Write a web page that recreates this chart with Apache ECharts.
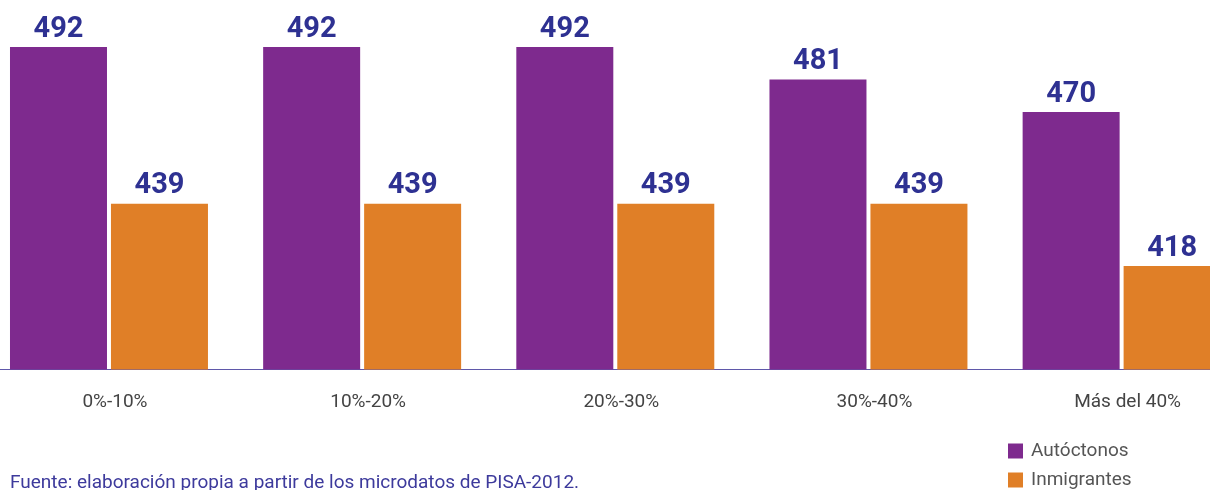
<!DOCTYPE html>
<html>
<head>
<meta charset="utf-8">
<script src="https://cdn.jsdelivr.net/npm/echarts@6/dist/echarts.min.js"></script>
<style>
  html, body { margin: 0; padding: 0; background: #ffffff; }
  #chart { width: 1210px; height: 490px; }
</style>
</head>
<body>
<div id="chart"></div>
<script>
// Puntuación media por porcentaje de alumnado inmigrante en el centro
const categories = ['0%-10%', '10%-20%', '20%-30%', '30%-40%', 'Más del 40%'];
const autoctonos = [492, 492, 492, 481, 470];
const inmigrantes = [439, 439, 439, 439, 418];
const seriesNames = ['Autóctonos', 'Inmigrantes'];
const sourceNote = 'Fuente: elaboración propia a partir de los microdatos de PISA-2012.';

const PURPLE = '#7e2a8e';
const ORANGE = '#e07f27';
const LABEL_BLUE = '#2e3192';

const chart = echarts.init(document.getElementById('chart'), null, { renderer: 'canvas' });

const valueLabel = {
  show: true,
  position: 'top',
  distance: 3,
  color: LABEL_BLUE,
  fontFamily: 'Roboto',
  fontWeight: 'bold',
  fontSize: 29
};

// One legend block per row so the two entries stack in the bottom-right corner
const legendRow = (name, top) => ({
  orient: 'vertical',
  left: 1008,
  top: top,
  padding: 0,
  itemWidth: 15,
  itemHeight: 15,
  icon: 'rect',
  textStyle: {
    color: '#555555',
    fontFamily: 'Roboto',
    fontSize: 19,
    lineHeight: 18,
    padding: [0, 0, 0, 3]
  },
  data: [name]
});

chart.setOption({
  animation: false,
  backgroundColor: '#ffffff',
  textStyle: { fontFamily: 'Roboto' },
  grid: {
    left: -17.6,
    width: 1265.8,
    top: 23.2,
    bottom: 120.5,
    containLabel: false,
    outerBoundsMode: 'none'
  },
  xAxis: {
    type: 'category',
    data: categories,
    axisLine: { show: true, lineStyle: { color: '#5f58aa', width: 1 } },
    axisTick: { show: false },
    axisLabel: {
      color: '#444444',
      fontFamily: 'Roboto',
      fontSize: 19,
      margin: 23,
      padding: [0, 0, 0, 12]
    }
  },
  yAxis: {
    type: 'value',
    min: 383,
    max: 500,
    show: false,
    splitLine: { show: false }
  },
  legend: [
    legendRow(seriesNames[0], 441.5),
    legendRow(seriesNames[1], 470.5)
  ],
  graphic: [{
    type: 'text',
    x: 10,
    y: 474,
    style: {
      text: sourceNote,
      fill: '#3d3a9c',
      font: '19px Roboto',
      verticalAlign: 'top'
    }
  }],
  series: [
    {
      name: seriesNames[0],
      type: 'bar',
      data: autoctonos,
      barWidth: 97,
      barGap: '4.1%',
      itemStyle: { color: PURPLE },
      label: valueLabel
    },
    {
      name: seriesNames[1],
      type: 'bar',
      data: inmigrantes,
      barWidth: 97,
      barGap: '4.1%',
      itemStyle: { color: ORANGE },
      label: valueLabel
    }
  ]
});
</script>
</body>
</html>
